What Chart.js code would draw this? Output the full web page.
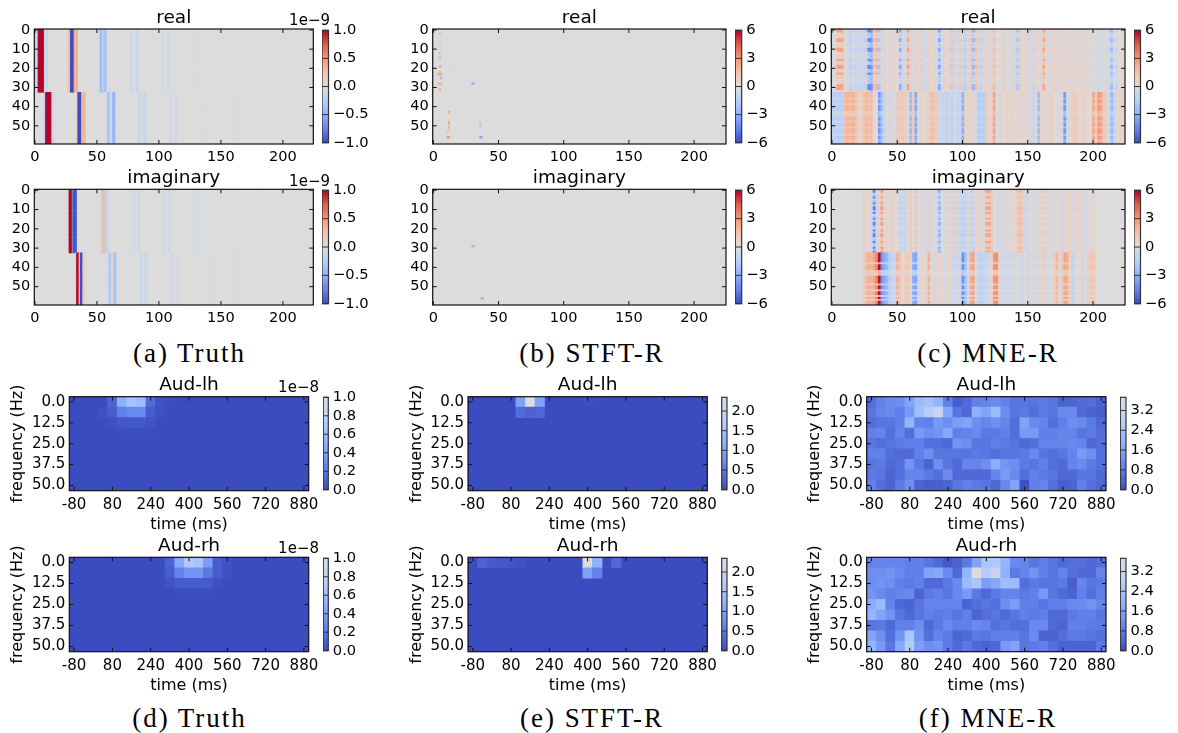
<!DOCTYPE html>
<html>
<head>
<meta charset="utf-8">
<script src="https://cdn.jsdelivr.net/npm/chart.js@4"></script>
<style>
  html, body { margin: 0; background: #fff; }
  #page { position: relative; width: 1178px; height: 733px; overflow: hidden; }
  #page canvas { position: absolute; filter: blur(0.45px); }
  .offset { position: absolute; font: 15px/1 "DejaVu Sans"; text-align: right; color: #000; width: 60px; }
  .caption { position: absolute; font: 27px/1 "Liberation Serif"; letter-spacing: 1.95px; text-align: center; color: #000; width: 300px; }
</style>
</head>
<body>
<div id="page"></div>
<script>
// coolwarm, value 0..1
const coolwarm = [[59,76,192],[98,130,234],[141,176,254],[184,208,249],[221,220,220],[244,196,173],[244,152,122],[222,96,77],[180,4,38]];

// axis ticks
const colTicks = [0, 50, 100, 150, 200];
const rowTicks = [0, 10, 20, 30, 40, 50];
const timeTicks = [-80, 80, 240, 400, 560, 720, 880];
const freqTicks = [0, 12.5, 25, 37.5, 50];
const timeMs = [-80,-40,0,40,80,120,160,200,240,280,320,360,400,440,480,520,560,600,640,680,720,760,800,840,880];
const freqHz = [0,6.25,12.5,18.75,25,31.25,37.5,43.75,50];

// colorbar ticks
const cbTruthTop = [-1, -0.5, 0, 0.5, 1];
const cbSix = [-6, -3, 0, 3, 6];
const cbTruthBottom = [0, 0.2, 0.4, 0.6, 0.8, 1];
const cbStft = [0, 0.5, 1, 1.5, 2];
const cbMne = [0, 0.8, 1.6, 2.4, 3.2];

// (a) truth, stripes: first block is rows 0-32, second is rows 33-59
const aRealTopCols = [0,1,2,3,4,5,6,7,8,9,10,27,28,29,30,31,32,33,34,53,54,55,56,57,78,82,83,103,107,108,128,129,130];
const aRealTopVals = [-.15,-.15,-.15,1,1,1,1,1,-.1,-.1,-.1,.25,.25,-1,-1,-1,.35,.35,.35,-.4,-.4,-.15,-.35,-.35,-.15,-.15,-.15,-.08,-.08,-.08,-.03,-.03,-.03];
const aRealBotCols = [8,9,10,11,12,13,14,15,34,35,36,37,38,39,40,59,60,61,62,63,64,84,85,88,89,109,110,113,114,134,135,136,160,161,162,163];
const aRealBotVals = [-.3,1,1,1,1,1,-.1,-.1,.2,-1,-1,-1,.35,.35,.35,-.35,-.35,-.1,-.1,-.45,-.45,-.12,-.12,-.15,-.15,-.08,-.08,-.08,-.08,-.03,-.03,-.03,-.02,-.02,-.02,-.02];
const aImagTopCols = [28,29,31,32,33,54,55,56,57,58,79,80,83,84,104,105,108,109,129,130,131,132,133,158,159,160,183,184];
const aImagTopVals = [1,1,-.95,-.95,-.95,-.2,.3,.3,-.2,-.2,-.07,-.07,-.1,-.1,-.07,-.07,-.08,-.08,-.05,-.05,-.05,-.05,-.05,-.02,-.02,-.02,-.02,-.02];
const aImagBotCols = [33,34,35,36,37,38,39,40,60,61,62,63,64,65,85,86,89,90,110,111,114,115,139,140,141,160,161,162,163,164,165,166];
const aImagBotVals = [-.1,1,1,.2,-1,-1,.15,.15,-.3,-.3,.1,.1,-.35,-.35,-.12,-.12,-.1,-.1,-.1,-.1,-.06,-.06,-.05,-.05,-.05,-.03,-.03,-.03,-.03,-.03,-.03,-.03];

// (b) STFT-R, isolated active coefficients
const bRealCols = [5,5,5,5,5,12,5,6,5,4,5,6,6,5,4,6,5,30,31,12,12,12,12,11,12,11,15,36,36,37,36,0];
const bRealRows = [2,8,12,14,15,19,19,19,23,23,22,23,25,28,28,28,31,28,28,43,48,49,51,53,56,56,56,49,51,56,56,56];
const bRealVals = [2,2,2.2,-1.5,-2,.8,2.4,2.2,2.4,2.6,2.4,2.4,-2.6,2.2,2,2,2.4,-2.8,-2.8,2.4,2.4,2.4,2.4,1.8,3,3,1.2,-2,-2,-3.2,-3.2,-.6];
const bImagCols = [30,31,37,38];
const bImagRows = [29,29,56,56];
const bImagVals = [-2.4,-2.4,-2.8,-2.8];

// (c) MNE-R, column profiles of each block: strong rows (A), weak rows (B), noisy rows (C), 2 columns per value
const cRealTopA = [-0.5,-0.3,2.6,2.8,2.2,0.2,-0.7,-1.2,-0.7,-1.2,-0.5,-1.3,-0.7,-1.5,-4.4,-3.8,1.6,2.2,-2.2,0.5,
  0.8,-0.3,0.6,0.2,0.7,0.2,-3.2,-0.8,-0.3,2.8,1.0,-0.6,1.0,0.3,1.2,-0.8,-0.5,0.9,0.2,1.0,
  -0.6,-3.4,-0.7,0.9,0.2,1.4,-1.6,0.6,-0.7,1.1,-1.0,-1.6,0.6,1.2,-2.8,1.8,-0.7,-1.3,0.6,1.0,
  -0.5,0.7,1.8,-0.4,0.6,0.2,1.1,-0.4,0.3,-0.8,0.8,-2.0,1.1,0.3,0.7,-0.8,1.0,-1.1,0.6,0.5,
  0.7,2.6,0.3,-0.5,0.7,1.0,-0.4,0.6,0.8,0.3,0.5,0.7,-0.4,0.8,0.3,0.6,0.7,0.2,0.5,-0.3,
  0.6,-0.4,-0.7,-0.5,-0.3,0.5,-0.7,-2.6,-0.5,-1.0,0.3,0.5,0.4];
const cRealTopB = [-0.4,-0.3,1.2,1.4,1.0,0.2,-0.5,-0.8,-0.4,-0.9,-0.4,-0.8,-0.5,-0.9,-2.0,-1.8,1.2,1.4,-1.0,0.5,
  0.7,-0.3,0.6,0.3,0.7,0.2,-1.6,-0.6,-0.3,1.5,0.8,-0.5,0.8,0.3,1.0,-0.6,-0.5,0.8,0.2,0.9,
  -0.5,-1.8,-0.5,0.7,0.3,1.1,-1.0,0.5,-0.5,0.9,-0.7,-1.0,0.5,1.0,-1.5,1.2,-0.5,-0.9,0.5,0.8,
  -0.4,0.6,1.3,-0.3,0.5,0.2,0.9,-0.3,0.3,-0.6,0.7,-1.2,0.9,0.3,0.6,-0.6,0.8,-0.8,0.5,0.4,
  0.6,1.6,0.3,-0.4,0.6,0.8,-0.3,0.5,0.7,0.3,0.4,0.6,-0.3,0.7,0.3,0.5,0.6,0.2,0.4,-0.3,
  0.5,-0.3,-0.5,-0.4,-0.3,0.4,-0.5,-1.5,-0.4,-0.7,0.3,0.4,0.3];
const cRealTopC = [-0.2,0.3,0.8,0.5,1.0,-0.3,0.3,-1.2,0.2,-0.3,-1.0,0.2,-0.9,0.3,-1.4,-2.8,0.4,0.8,-0.3,-0.4,
  0.5,0.4,-0.4,0.6,-0.3,0.5,-0.9,0.4,-0.6,0.6,-0.3,0.5,-0.4,0.7,-0.3,0.3,-0.8,0.3,0.6,-0.3,
  0.5,-1.0,0.3,-0.5,0.6,-0.3,0.4,-0.6,0.5,-0.3,0.4,-0.8,-0.3,0.5,-0.9,0.3,0.6,-0.4,-0.3,0.5,
  0.4,-0.5,0.6,0.3,-0.3,0.5,-0.4,0.4,-0.5,0.3,-0.3,-0.7,0.4,-0.3,0.5,0.3,-0.4,0.3,-0.5,0.6,
  -0.3,0.9,-0.4,0.5,-0.3,0.4,0.5,-0.3,0.3,0.5,-0.4,0.3,0.5,-0.3,0.4,-0.3,0.5,0.3,-0.3,0.4,
  -0.3,0.4,-0.3,0.3,-0.5,0.3,-0.4,-0.9,0.3,-0.3,0.4,-0.3,0.3];
const cRealBotA = [-1.4,-1.5,-1.4,-1.6,-1.2,1.9,2.1,1.9,2.1,1.7,0.5,0.6,1.6,2.0,1.7,1.8,0.3,0.1,-3.8,-2.2,
  -0.9,0.4,-0.8,0.7,-0.4,1.3,1.0,1.4,0.8,0.5,-2.6,1.2,-3.4,0.4,0.7,0.3,0.5,0.8,1.7,1.5,
  1.1,-0.6,-1.0,-0.8,-1.3,-0.7,-1.2,-0.5,-1.0,-0.9,-3.0,0.7,0.5,0.8,0.4,-0.4,-1.8,-1.4,-1.6,1.1,
  0.5,0.8,2.6,0.4,-0.5,0.5,0.3,0.8,0.4,0.7,0.3,0.6,-0.4,0.8,0.4,-0.5,0.7,-0.9,0.3,-2.6,
  0.5,0.7,-0.4,0.6,0.8,0.3,-0.3,0.5,-0.4,-3.8,-0.8,0.4,1.0,1.2,0.9,0.3,0.6,0.5,0.3,0.3,
  2.6,1.2,3.0,2.6,1.2,1.0,-0.4,-2.6,-1.1,0.3,0.7,0.6,0.4];
const cRealBotB = [-0.8,-0.9,-0.8,-1.0,-0.7,1.2,1.3,1.2,1.3,1.0,0.3,0.4,1.0,1.3,1.1,1.2,0.2,0.1,-2.2,-1.3,
  -0.6,0.3,-0.5,0.5,-0.3,0.8,0.7,0.9,0.6,0.4,-1.6,0.8,-2.1,0.3,0.5,0.2,0.4,0.6,1.1,1.0,
  0.8,-0.4,-0.7,-0.6,-0.9,-0.5,-0.8,-0.4,-0.7,-0.6,-1.8,0.5,0.4,0.6,0.3,-0.3,-1.2,-0.9,-1.1,0.8,
  0.4,0.6,1.7,0.3,-0.4,0.4,0.2,0.6,0.3,0.5,0.2,0.4,-0.3,0.6,0.3,-0.4,0.5,-0.6,0.2,-1.6,
  0.4,0.5,-0.3,0.4,0.6,0.2,-0.2,0.4,-0.3,-2.3,-0.5,0.3,0.7,0.8,0.6,0.2,0.5,0.3,0.2,0.2,
  1.7,0.8,1.9,1.7,0.8,0.7,-0.3,-1.6,-0.7,0.2,0.5,0.4,0.3];
const cRealTopPick = [0,0,2,1,2,0,0,2,1,2,0,0,2,1,2,1,0,2,1,0,0,2,1,0,2,1,2,1,2,0,0,0,2];
const cRealBotPick = [0,0,0,1,0,0,1,0,0,0,1,1,1,0,0,1,0,0,1,0,0,0,1,0,0,1,0];

// imaginary part starts at column 24 and stops at column 200
const cImagFirstCol = 24;
const cImagTopA = [0.7,0.9,0.2,-0.8,-4.6,-1.2,0.8,3.0,0.5,0.7,0.4,0.8,0.3,0.4,-1.3,-0.9,-1.1,0.3,1.4,-0.4,
  1.6,0.3,-0.6,0.4,-0.7,0.8,-0.6,0.4,-0.6,-3.0,-0.4,0.5,-0.7,1.0,-0.8,1.1,-0.6,-1.0,-1.4,-1.2,
  0.4,-1.0,-1.4,0.6,0.5,0.7,-0.4,2.4,2.6,1.8,0.3,-0.6,-0.4,-0.7,0.5,-0.4,0.5,0.3,0.7,1.5,
  1.9,1.2,-0.8,-0.7,0.4,-0.7,0.5,-0.6,1.0,1.1,-0.6,0.5,-0.7,0.6,0.4,-0.4,0.8,-0.6,0.4,1.0,
  -0.7,0.6,1.0,-0.4,0.5,-0.7,0.3,-0.4,0.6];
const cImagTopB = [0.5,0.6,0.2,-0.5,-2.2,-0.7,0.6,1.6,0.4,0.5,0.3,0.6,0.3,0.3,-0.9,-0.6,-0.8,0.2,1.0,-0.3,
  1.1,0.2,-0.4,0.3,-0.5,0.6,-0.4,0.3,-0.4,-1.7,-0.3,0.4,-0.5,0.7,-0.6,0.8,-0.4,-0.7,-0.9,-0.8,
  0.3,-0.7,-0.9,0.5,0.4,0.5,-0.3,1.4,1.5,1.1,0.3,-0.5,-0.3,-0.5,0.4,-0.3,0.4,0.3,0.5,1.0,
  1.2,0.8,-0.6,-0.5,0.3,-0.5,0.4,-0.4,0.7,0.8,-0.4,0.4,-0.5,0.5,0.3,-0.3,0.6,-0.4,0.3,0.7,
  -0.5,0.5,0.7,-0.3,0.4,-0.5,0.3,-0.3,0.5];
const cImagTopC = [0.3,0.4,-0.3,0.3,-1.4,0.3,-0.5,0.8,-0.3,0.4,-0.3,0.3,0.4,-0.3,-0.5,0.3,-0.7,0.4,0.4,0.3,
  0.6,-0.3,0.3,-0.4,0.3,-0.4,0.3,-0.3,0.3,-1.0,0.3,-0.4,0.3,0.3,-0.4,0.3,0.3,-0.5,-0.3,-0.6,
  -0.3,0.3,-0.5,0.3,-0.3,0.4,0.3,0.8,0.9,0.5,-0.3,0.3,-0.4,0.3,-0.3,0.3,-0.3,0.4,-0.3,0.5,
  0.8,0.4,-0.3,0.3,-0.3,0.3,-0.4,0.3,0.4,0.3,-0.3,0.3,-0.3,0.3,-0.3,0.3,0.4,-0.3,0.3,0.4,
  -0.3,0.3,0.4,0.3,-0.3,0.3,-0.3,0.3,0.3];
const cImagBotA = [0.8,1.8,2.2,2.0,2.4,3.6,5.8,-3.8,-3.2,-2.6,-1.4,-1.0,-0.7,2.2,1.3,0.3,1.0,1.3,0.4,-3.0,
  -3.4,-0.6,0.5,0.7,0.5,2.2,0.4,-0.6,0.5,0.7,0.3,-0.6,0.5,0.3,-0.6,-0.9,-0.6,-0.8,-4.0,-2.4,
  -0.4,2.2,2.8,0.4,-1.2,-1.4,-1.0,-0.9,-0.7,0.4,3.0,3.2,0.6,-0.6,-0.7,-0.4,-0.7,-0.4,-0.6,0.3,
  -0.5,-0.7,0.3,-1.0,0.5,-0.6,0.6,-0.7,0.5,0.8,-0.6,-0.4,0.6,0.8,2.0,0.5,1.0,2.6,2.2,0.6,
  -1.2,-0.6,0.4,0.7,-0.9,0.4,0.8,1.2,1.4];
const cImagBotB = [0.4,0.8,1.0,0.9,1.1,1.5,2.4,-1.5,-1.4,-1.2,-0.7,-0.5,-0.3,1.0,0.7,0.2,0.5,0.7,0.2,-1.3,
  -1.4,-0.3,0.3,0.3,0.3,1.0,0.2,-0.3,0.3,0.3,0.2,-0.3,0.3,0.2,-0.3,-0.4,-0.3,-0.4,-1.7,-1.1,
  -0.2,1.1,1.3,0.2,-0.6,-0.7,-0.5,-0.4,-0.3,0.2,1.4,1.5,0.3,-0.3,-0.3,-0.2,-0.3,-0.2,-0.3,0.2,
  -0.2,-0.3,0.2,-0.5,0.3,-0.3,0.3,-0.3,0.3,0.4,-0.3,-0.2,0.3,0.4,0.9,0.2,0.5,1.2,1.0,0.3,
  -0.6,-0.3,0.2,0.3,-0.4,0.2,0.4,0.6,0.7];
const cImagTopPick = [0,0,2,1,0,2,1,0,2,0,0,1,0,2,1,0,2,0,0,1,2,0,1,0,0,2,1,0,1,2,0,1,0];
const cImagBotPick = [0,0,0,0,0,1,0,0,0,1,1,1,0,0,0,0,1,0,0,1,0,0,1,0,1,0,0];

// (d) truth, time-frequency power
const dLeft = [
  [0,0,0,0,.12,.5,.65,.6,.15,.03,.01,0,0,0,0,0,0,0,0,0,0,0,0,0,0],
  [0,0,0,.02,.08,.25,.3,.3,.08,.02,0,0,0,0,0,0,0,0,0,0,0,0,0,0,0],
  [0,0,0,0,.02,.05,.06,.06,.03,0,0,0,0,0,0,0,0,0,0,0,0,0,0,0,0],
  [0,0,0,0,0,.01,.01,.01,.005,0,0,0,0,0,0,0,0,0,0,0,0,0,0,0,0],
  [0,0,0,0,0,0,0,0,0,0,0,0,0,0,0,0,0,0,0,0,0,0,0,0,0],
  [0,0,0,0,0,0,0,0,0,0,0,0,0,0,0,0,0,0,0,0,0,0,0,0,0],
  [0,0,0,0,0,0,0,0,0,0,0,0,0,0,0,0,0,0,0,0,0,0,0,0,0],
  [0,0,0,0,0,0,0,0,0,0,0,0,0,0,0,0,0,0,0,0,0,0,0,0,0],
  [0,0,0,0,0,0,0,0,0,0,0,0,0,0,0,0,0,0,0,0,0,0,0,0,0]];
const dRight = [
  [0,0,0,0,0,0,0,0,0,0,.1,.45,.7,.65,.4,.08,.02,0,0,0,0,0,0,0,0],
  [0,0,0,0,0,0,0,0,0,0,.08,.25,.35,.35,.2,.08,.02,0,0,0,0,0,0,0,0],
  [0,0,0,0,0,0,0,0,0,0,.03,.07,.08,.08,.06,.02,0,0,0,0,0,0,0,0,0],
  [0,0,0,0,0,0,0,0,0,0,0,.01,.01,.01,.01,0,0,0,0,0,0,0,0,0,0],
  [0,0,0,0,0,0,0,0,0,0,0,0,0,0,0,0,0,0,0,0,0,0,0,0,0],
  [0,0,0,0,0,0,0,0,0,0,0,0,0,0,0,0,0,0,0,0,0,0,0,0,0],
  [0,0,0,0,0,0,0,0,0,0,0,0,0,0,0,0,0,0,0,0,0,0,0,0,0],
  [0,0,0,0,0,0,0,0,0,0,0,0,0,0,0,0,0,0,0,0,0,0,0,0,0],
  [0,0,0,0,0,0,0,0,0,0,0,0,0,0,0,0,0,0,0,0,0,0,0,0,0]];

// (e) STFT-R, only the first two frequency rows are non zero
const eLeft = [
  [0,0,0,0,0,1,2.35,1,0,0,0,0,.02,.02,0,0,0,0,0,0,0,0,0,0,0],
  [0,0,0,0,0,.35,.25,.3,0,0,0,0,0,0,0,0,0,0,0,0,0,0,0,0,0]];
const eRight = [
  [0,.25,.15,.12,.1,.05,0,0,0,0,0,0,2.35,1.2,0,.3,0,0,0,0,0,0,0,0,0],
  [0,0,0,0,0,0,0,0,0,0,0,0,1,.6,0,0,0,0,0,0,0,0,0,0,0]];

// (f) MNE-R
const fLeft = [
  [0.6,0.9,1.1,1.2,1.6,2.2,2.4,2.0,0.9,0.3,0.5,0.9,1.0,1.1,0.9,0.7,0.7,0.7,0.8,0.7,0.4,0.4,0.5,0.6,0.4],
  [0.7,1.0,1.1,0.9,1.4,2.3,2.7,3.2,1.7,0.7,0.5,1.9,1.6,2.2,1.2,0.7,0.8,0.6,0.8,0.7,1.1,1.1,0.5,0.4,0.3],
  [0.6,0.7,0.7,0.9,2.0,1.0,0.9,1.4,1.2,1.5,1.6,1.2,1.0,1.2,1.0,0.6,1.6,1.1,1.0,0.6,0.9,1.2,1.1,0.8,0.5],
  [0.9,1.0,0.6,1.0,0.6,1.4,1.2,1.3,1.7,0.9,1.0,1.1,0.8,0.8,0.9,0.6,1.4,1.4,0.9,0.9,1.0,1.0,0.7,0.8,0.6],
  [0.7,0.6,0.7,0.8,0.9,0.9,0.6,0.6,0.5,1.3,1.2,0.7,0.7,0.9,0.8,0.7,0.5,0.6,1.0,1.0,1.0,1.1,1.0,0.5,0.6],
  [0.9,0.9,0.6,0.5,0.5,0.9,1.2,0.7,0.7,0.7,0.7,0.8,0.7,0.6,0.7,0.7,0.8,1.1,0.7,0.6,0.7,1.0,1.4,1.2,0.6],
  [0.7,0.8,0.5,0.6,1.3,0.8,0.4,1.2,0.7,0.5,1.0,1.0,1.2,1.8,1.3,1.2,0.8,0.7,0.9,0.6,0.5,1.0,1.1,0.8,0.6],
  [0.8,0.7,0.4,0.6,1.0,1.0,0.8,0.6,1.1,0.5,0.5,0.5,0.5,1.0,1.4,1.1,0.6,0.9,0.8,0.7,0.5,0.5,0.7,0.7,0.5],
  [0.9,0.6,0.4,0.8,1.2,0.4,0.3,0.3,0.4,0.7,0.9,0.8,0.7,0.5,1.1,1.6,0.1,0.9,1.0,0.6,0.3,0.4,0.9,0.6,0.5]];
const fRight = [
  [1.0,1.0,1.0,1.0,0.9,0.9,0.7,0.5,0.2,0.4,0.8,1.6,2.5,2.6,2.0,1.1,1.0,0.7,0.9,0.7,0.5,0.6,0.6,0.5,0.6],
  [1.2,1.2,1.3,1.1,0.9,0.9,1.6,1.7,1.1,0.5,2.0,3.7,2.7,3.2,1.9,0.8,1.0,1.3,0.9,0.7,1.0,0.6,0.5,0.5,1.0],
  [1.2,1.3,1.2,0.9,0.8,0.9,0.5,0.5,0.8,1.1,2.2,2.5,1.5,1.7,2.3,2.2,0.6,0.8,0.7,0.7,0.8,0.3,1.0,0.7,0.8],
  [1.3,1.1,0.9,1.0,1.1,0.4,0.8,0.9,0.7,1.1,1.4,0.8,0.5,0.8,1.0,1.0,0.8,0.9,1.4,0.7,0.5,0.4,0.9,0.6,0.9],
  [1.8,2.2,1.0,0.5,0.4,0.7,1.0,1.0,1.0,1.0,0.4,0.6,0.7,0.6,1.2,1.5,0.9,0.9,0.7,0.9,0.9,1.1,1.1,1.3,1.0],
  [2.0,1.6,1.3,0.7,0.5,0.7,0.9,0.8,0.9,0.7,0.9,0.4,0.6,0.7,0.5,0.7,0.9,0.8,0.9,0.5,0.5,0.8,0.9,0.9,0.7],
  [0.7,0.8,0.5,0.9,0.9,1.2,0.5,0.8,1.1,0.9,0.9,1.1,1.0,0.6,0.7,0.6,0.6,1.1,1.1,0.5,0.4,0.9,0.9,0.8,0.8],
  [1.6,1.2,0.6,1.3,2.5,1.3,0.6,1.0,0.8,0.4,0.5,0.8,0.7,0.9,0.9,0.9,0.7,1.1,0.4,0.4,0.6,0.8,0.8,0.7,0.6],
  [2.0,1.4,0.7,1.7,2.7,1.5,1.2,1.3,0.8,0.5,0.8,0.5,0.4,0.5,1.4,1.6,0.7,0.8,0.9,0.6,0.4,0.4,0.4,0.4,0.8]];

const FONT = '"DejaVu Sans"';
const page = document.getElementById('page');

const cmap = (t) => {
  const p = Math.min(Math.max(t, 0), 1) * (coolwarm.length - 1);
  const i = Math.min(Math.floor(p), coolwarm.length - 2);
  const f = p - i;
  const c = coolwarm[i].map((a, k) => Math.round(a + (coolwarm[i + 1][k] - a) * f));
  return `rgb(${c[0]},${c[1]},${c[2]})`;
};

const signed = (v, d) => v.toFixed(d).replace('-', '\u2212');

// frame and inward ticks, all four sides like old matplotlib
const framePlugin = {
  id: 'frame',
  afterDatasetsDraw(chart) {
    const { ctx, chartArea: a, scales } = chart;
    const across = chart.options.plugins.frame.across;
    ctx.save();
    ctx.strokeStyle = across ? '#333' : '#111';
    ctx.lineWidth = 1;
    ctx.beginPath();
    if (!across) {
      scales.x.ticks.forEach((t) => {
        const p = scales.x.getPixelForValue(t.value);
        ctx.moveTo(p, a.top); ctx.lineTo(p, a.top + 4);
        ctx.moveTo(p, a.bottom); ctx.lineTo(p, a.bottom - 4);
      });
    }
    scales.y.ticks.forEach((t) => {
      const p = scales.y.getPixelForValue(t.value);
      ctx.moveTo(a.left, p); ctx.lineTo(a.left + (across ? a.width : 4), p);
      if (!across) { ctx.moveTo(a.right, p); ctx.lineTo(a.right - 4, p); }
    });
    ctx.stroke();
    ctx.lineWidth = 1.2;
    ctx.strokeRect(a.left, a.top, a.width, a.height);
    ctx.restore();
  }
};

const bgPlugin = {
  id: 'plotBg',
  beforeDatasetsDraw(chart) {
    const a = chart.chartArea;
    chart.ctx.fillStyle = chart.options.plugins.plotBg.color;
    chart.ctx.fillRect(a.left, a.top, a.width, a.height);
  }
};

const addCanvas = (left, top, right, bottom) => {
  const c = document.createElement('canvas');
  c.width = right - left;
  c.height = bottom - top;
  c.style.left = left + 'px';
  c.style.top = top + 'px';
  c.style.width = (right - left) + 'px';
  c.style.height = (bottom - top) + 'px';
  page.appendChild(c);
  return c;
};

const heatChart = (box, cfg) => {
  const [x0, y0, x1, y1] = box;
  const withLabels = !!cfg.xLabel;
  const tickSize = withLabels ? 15 : 14.5;
  const left = Math.floor(x0 - (withLabels ? 61 : 32));
  const top = Math.floor(y0 - 24);
  const right = Math.ceil(x1 + 24);
  const bottom = Math.ceil(y1 + (withLabels ? 43 : 24));
  const canvas = addCanvas(left, top, right, bottom);
  new Chart(canvas, {
    type: 'bar',
    data: {
      datasets: [{
        data: cfg.cells,
        backgroundColor: cfg.cells.map((c) => cmap(c.t)),
        borderWidth: 0,
        barPercentage: 1,
        categoryPercentage: 1,
        barThickness: cfg.barThickness
      }]
    },
    plugins: [bgPlugin, framePlugin],
    options: {
      indexAxis: 'y',
      responsive: false,
      animation: false,
      events: [],
      layout: {
        autoPadding: false,
        padding: { top: y0 - top - 22.2, right: right - x1, left: 0, bottom: 0 }
      },
      plugins: {
        legend: { display: false },
        tooltip: { enabled: false },
        title: {
          display: true,
          text: cfg.title,
          fullSize: false,
          padding: 0,
          color: '#000',
          font: { family: FONT, size: 18.5, weight: 'normal', lineHeight: 1.2 }
        },
        plotBg: { color: cfg.bg },
        frame: { across: false }
      },
      scales: {
        x: {
          type: 'linear',
          min: cfg.xRange[0],
          max: cfg.xRange[1],
          offset: false,
          grid: { display: false, drawTicks: false },
          border: { display: false },
          afterBuildTicks: (s) => { s.ticks = cfg.xTicks.map((value) => ({ value })); },
          afterFit: (s) => { s.height = bottom - y1; },
          ticks: { autoSkip: false, maxRotation: 0, minRotation: 0, padding: 5, color: '#000',
            font: { family: FONT, size: tickSize }, callback: (v) => String(v) },
          title: { display: withLabels, text: cfg.xLabel, padding: 0, color: '#000',
            font: { family: FONT, size: 16, lineHeight: 1.2 } }
        },
        y: {
          type: 'linear',
          reverse: true,
          min: cfg.yRange[0],
          max: cfg.yRange[1],
          offset: false,
          grid: { display: false, drawTicks: false },
          border: { display: false },
          afterBuildTicks: (s) => { s.ticks = cfg.yTicks.map((value) => ({ value })); },
          afterFit: (s) => { s.width = x0 - left; },
          ticks: { autoSkip: false, padding: 4, color: '#000', font: { family: FONT, size: tickSize },
            callback: cfg.yFormat },
          title: { display: withLabels, text: 'frequency (Hz)', padding: 0, color: '#000',
            font: { family: FONT, size: 16, lineHeight: 1.2 } }
        }
      }
    }
  });
};

const colorbar = (box, lo, hi, ticks, decimals, toT) => {
  const [x0, y0, x1, y1] = box;
  const left = Math.floor(x0);
  const top = Math.floor(y0 - 12);
  const right = Math.ceil(x1 + 46);
  const bottom = Math.ceil(y1 + 12);
  const canvas = addCanvas(left, top, right, bottom);
  const levels = [];
  for (let i = 0; i < 64; i++) levels.push(lo + (hi - lo) * (i + 0.5) / 64);
  new Chart(canvas, {
    type: 'bar',
    data: {
      datasets: [{
        data: levels.map((v) => ({ x: [0, 1], y: v })),
        backgroundColor: levels.map((v) => cmap(toT(v))),
        borderWidth: 0,
        barPercentage: 1,
        categoryPercentage: 1
      }]
    },
    plugins: [framePlugin],
    options: {
      indexAxis: 'y',
      responsive: false,
      animation: false,
      events: [],
      layout: {
        autoPadding: false,
        padding: { top: y0 - top, bottom: bottom - y1, left: x0 - left, right: 0 }
      },
      plugins: { legend: { display: false }, tooltip: { enabled: false }, frame: { across: true } },
      scales: {
        x: { type: 'linear', min: 0, max: 1, display: false, offset: false },
        y: {
          type: 'linear',
          position: 'right',
          min: lo,
          max: hi,
          offset: false,
          grid: { display: false, drawTicks: false },
          border: { display: false },
          afterBuildTicks: (s) => { s.ticks = ticks.map((value) => ({ value })); },
          afterFit: (s) => { s.width = right - x1; },
          ticks: { autoSkip: false, padding: 4.5, color: '#000', font: { family: FONT, size: 14.7 },
            callback: (v) => signed(v, decimals) }
        }
      }
    }
  });
};

// cell builders
const stripes = (blocks, vmax) => {
  const cells = [];
  blocks.forEach(([from, to, cols, vals]) => {
    for (let r = from; r <= to; r++) {
      cols.forEach((c, i) => cells.push({ x: [c - 0.5, c + 0.5], y: r, t: (vals[i] + vmax) / (2 * vmax) }));
    }
  });
  return cells;
};
const points = (cols, rows, vals) =>
  cols.map((c, i) => ({ x: [c - 0.5, c + 0.5], y: rows[i], t: (vals[i] + 6) / 12 }));
const profiles = (firstCol, blocks) => {
  const cells = [];
  blocks.forEach(([from, pick, profs]) => {
    pick.forEach((p, k) => {
      profs[p].forEach((v, j) => {
        const c = firstCol + j * 2;
        cells.push({ x: [c - 0.5, c + 1.5], y: from + k, t: (v + 6) / 12 });
      });
    });
  });
  return cells;
};
const grid = (matrix, vmax) => {
  const cells = [];
  matrix.forEach((row, r) => {
    row.forEach((v, c) => {
      if (v > 0) cells.push({ x: [timeMs[c] - 20, timeMs[c] + 20], y: freqHz[r], t: v / vmax / 2 });
    });
  });
  // empty rows still count for the bar height
  freqHz.forEach((f) => cells.push({ x: [timeMs[0] - 20, timeMs[0] - 20], y: f, t: 0 }));
  return cells;
};

// panel layouts, pixels: left, top, right, bottom
const topRow = { a: [34.3, 322, 328.5], b: [432.7, 735.3, 741.7], c: [831.3, 1134, 1140.5] };
const topWidth = { a: 313.3, b: 726, c: 1125 };
const bottomRow = { d: [69.3, 308.7, 323.3, 328.3], e: [468, 707.3, 721.7, 727], f: [866.7, 1106, 1120.3, 1126] };
const realY = [29, 144];
const imagY = [189.3, 305];
const lhY = [396.7, 490.7];
const rhY = [557.3, 651.7];

const topCfg = (title, cells, extra) => Object.assign({
  title, cells, bg: 'rgb(221,220,220)',
  xRange: [-0.5, 224.5], yRange: [-0.5, 59.5], xTicks: colTicks, yTicks: rowTicks,
  yFormat: (v) => String(v)
}, extra);

const bottomCfg = (title, cells) => ({
  title, cells, bg: 'rgb(59,76,192)', xLabel: 'time (ms)',
  xRange: [-100, 900], yRange: [-3.125, 53.125], xTicks: timeTicks, yTicks: freqTicks,
  yFormat: (v) => v.toFixed(1)
});

const sym = (m) => (v) => (v + m) / (2 * m);
const half = (m) => (v) => v / m / 2;

window.addEventListener('load', () => {
  // top row
  heatChart([topRow.a[0], realY[0], topWidth.a, realY[1]], topCfg('real', stripes([[0, 32, aRealTopCols, aRealTopVals], [33, 59, aRealBotCols, aRealBotVals]], 1)));
  colorbar([topRow.a[1], realY[0], topRow.a[2], realY[1]], -1, 1, cbTruthTop, 1, sym(1));
  heatChart([topRow.a[0], imagY[0], topWidth.a, imagY[1]], topCfg('imaginary', stripes([[0, 32, aImagTopCols, aImagTopVals], [33, 59, aImagBotCols, aImagBotVals]], 1)));
  colorbar([topRow.a[1], imagY[0], topRow.a[2], imagY[1]], -1, 1, cbTruthTop, 1, sym(1));

  heatChart([topRow.b[0], realY[0], topWidth.b, realY[1]], topCfg('real', points(bRealCols, bRealRows, bRealVals), { barThickness: 115 / 60 }));
  colorbar([topRow.b[1], realY[0], topRow.b[2], realY[1]], -6, 6, cbSix, 0, sym(6));
  heatChart([topRow.b[0], imagY[0], topWidth.b, imagY[1]], topCfg('imaginary', points(bImagCols, bImagRows, bImagVals), { barThickness: 115 / 60 }));
  colorbar([topRow.b[1], imagY[0], topRow.b[2], imagY[1]], -6, 6, cbSix, 0, sym(6));

  heatChart([topRow.c[0], realY[0], topWidth.c, realY[1]], topCfg('real', profiles(0, [[0, cRealTopPick, [cRealTopA, cRealTopB, cRealTopC]], [33, cRealBotPick, [cRealBotA, cRealBotB]]])));
  colorbar([topRow.c[1], realY[0], topRow.c[2], realY[1]], -6, 6, cbSix, 0, sym(6));
  heatChart([topRow.c[0], imagY[0], topWidth.c, imagY[1]], topCfg('imaginary', profiles(cImagFirstCol, [[0, cImagTopPick, [cImagTopA, cImagTopB, cImagTopC]], [33, cImagBotPick, [cImagBotA, cImagBotB]]])));
  colorbar([topRow.c[1], imagY[0], topRow.c[2], imagY[1]], -6, 6, cbSix, 0, sym(6));

  // bottom row
  const d = bottomRow.d, e = bottomRow.e, f = bottomRow.f;
  heatChart([d[0], lhY[0], d[1], lhY[1]], bottomCfg('Aud-lh', grid(dLeft, 1)));
  colorbar([d[2], lhY[0], d[3], lhY[1]], 0, 1, cbTruthBottom, 1, half(1));
  heatChart([d[0], rhY[0], d[1], rhY[1]], bottomCfg('Aud-rh', grid(dRight, 1)));
  colorbar([d[2], rhY[0], d[3], rhY[1]], 0, 1, cbTruthBottom, 1, half(1));

  heatChart([e[0], lhY[0], e[1], lhY[1]], bottomCfg('Aud-lh', grid(eLeft, 2.35)));
  colorbar([e[2], lhY[0], e[3], lhY[1]], 0, 2.35, cbStft, 1, half(2.35));
  heatChart([e[0], rhY[0], e[1], rhY[1]], bottomCfg('Aud-rh', grid(eRight, 2.35)));
  colorbar([e[2], rhY[0], e[3], rhY[1]], 0, 2.35, cbStft, 1, half(2.35));

  heatChart([f[0], lhY[0], f[1], lhY[1]], bottomCfg('Aud-lh', grid(fLeft, 3.73)));
  colorbar([f[2], lhY[0], f[3], lhY[1]], 0, 3.73, cbMne, 1, half(3.73));
  heatChart([f[0], rhY[0], f[1], rhY[1]], bottomCfg('Aud-rh', grid(fRight, 3.73)));
  colorbar([f[2], rhY[0], f[3], rhY[1]], 0, 3.73, cbMne, 1, half(3.73));

  // offset labels and captions
  [[330, 26, '1e\u22129'], [330, 186.7, '1e\u22129'], [319, 393, '1e\u22128'], [319, 554, '1e\u22128']].forEach(([r, base, txt]) => {
    const el = document.createElement('div');
    el.className = 'offset';
    el.style.left = (r - 60) + 'px';
    el.style.top = (base - 12.7) + 'px';
    el.textContent = txt;
    page.appendChild(el);
  });
  [[189.5, 340, '(a) Truth'], [592, 340, '(b) STFT-R'], [988, 340, '(c) MNE-R'],
   [189.5, 705.4, '(d) Truth'], [592, 705.4, '(e) STFT-R'], [988, 705.4, '(f) MNE-R']].forEach(([cx, t, txt]) => {
    const el = document.createElement('div');
    el.className = 'caption';
    el.style.left = (cx - 150) + 'px';
    el.style.top = t + 'px';
    el.textContent = txt;
    page.appendChild(el);
  });
});
</script>
</body>
</html>
